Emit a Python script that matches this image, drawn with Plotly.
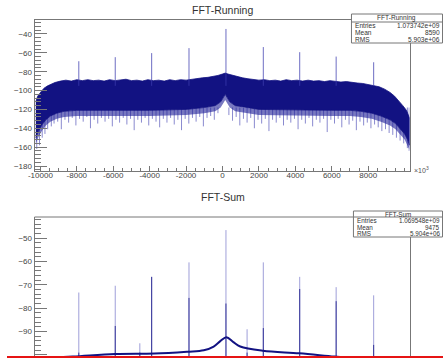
import plotly.graph_objects as go

W, H = 443, 358

# ---------------- data ----------------
# FFT-Running : upper edge of the dense noise band
run_up_x = [-10250, -10150, -9950, -9800, -9600, -9450, -9200, -8900, -8600, -8300, -8000, -7700,
            -7400, -7100, -6800, -6500, -6200, -5900, -5600, -5300, -5000, -4700, -4400, -4100,
            -3800, -3500, -3200, -2900, -2600, -2300, -2000, -1700, -1400, -1100, -800, -500,
            -250, 0, 150, 300, 550, 800, 1100, 1400, 1700, 2000, 2300, 2600, 2900, 3200, 3500,
            3800, 4100, 4400, 4700, 5000, 5300, 5600, 5900, 6200, 6500, 6800, 7100, 7400, 7700,
            8000, 8300, 8600, 8900, 9200, 9450, 9700, 9900, 10100, 10270]
run_up_y = [-112, -106, -101, -97.5, -95, -93.5, -91.5, -90, -89, -90, -88.5, -89.5,
            -88.5, -89.5, -89, -90, -88.5, -89.5, -89, -88, -89.5, -89, -90, -88.5,
            -89.5, -89, -90, -88.5, -89.5, -88.5, -89, -88, -87.5, -86.5, -86, -85,
            -84, -82.5, -81.5, -82.5, -84, -85.5, -86.5, -87.5, -88, -89, -88.5, -89.5, -89, -90, -88.5,
            -89.5, -89, -90, -89, -90, -89.5, -90.5, -89.5, -90, -91, -90.5, -91.5, -92, -92.5,
            -93.5, -94.5, -96, -98.5, -102, -106, -111, -116, -121, -129]
# lower edge of the solid (dark) part of the band
run_lo_x = [-10250, -10100, -9900, -9700, -9450, -9100, -8700, -8000, -4000, -2000, -1000, -400,
            -100, 150, 400, 700, 1200, 2000, 6000, 7000, 7600, 8200, 8700, 9200, 9500, 9780,
            10000, 10160, 10270]
run_lo_y = [-150, -143, -136, -131, -127, -124, -122, -121, -121, -120, -118, -116,
            -112, -104, -112, -116, -118, -120, -121, -121, -122, -124, -127, -131, -135, -141,
            -146, -152, -158]
# lower edge of the half-dense fringe under the solid part
run_fr_y = [-156, -149, -142, -137, -133, -130, -128, -127, -127, -126, -124, -122,
            -118, -110, -118, -122, -124, -126, -127, -127, -128, -130, -133, -137, -141, -147,
            -152, -158, -163]
# ragged strokes below the band
run_rag_x = [-10200, -10050, -9900, -9750, -9600, -9400, -9250, -9050, -8850, -8650, -8450, -8250,
             -8050, -7850, -7650, -7450, -7250, -7050, -6850, -6650, -6450, -6250, -6050, -5850,
             -5650, -5450, -5250, -5050, -4850, -4650, -4450, -4250, -4050, -3850, -3650, -3450,
             -3250, -3050, -2850, -2650, -2450, -2250, -2050, -1850, -1650, -1450, -1250, -1050,
             -850, -650, -450, -250, 350, 550, 750, 950, 1150, 1350, 1550, 1750, 1950, 2150,
             2350, 2550, 2750, 2950, 3150, 3350, 3550, 3750, 3950, 4150, 4350, 4550, 4750, 4950,
             5150, 5350, 5550, 5750, 5950, 6150, 6350, 6550, 6750, 6950, 7150, 7350, 7550, 7750,
             7950, 8150, 8350, 8550, 8750, 8950, 9150, 9350, 9550, 9750, 9950, 10150, 10250]
run_rag_y = [-162, -158, -150, -146, -141, -138, -135, -133, -141, -131, -134, -129,
             -137, -130, -133, -128, -140, -131, -135, -129, -133, -130, -138, -131,
             -134, -129, -136, -130, -142, -131, -134, -129, -137, -130, -133, -139,
             -130, -134, -129, -136, -131, -142, -130, -135, -129, -133, -128, -138,
             -129, -127, -131, -124, -126, -132, -128, -137, -130, -134, -129, -140, -131, -135,
             -130, -143, -131, -134, -129, -137, -131, -134, -130, -141, -131, -135, -129, -138,
             -131, -134, -130, -144, -131, -135, -130, -139, -131, -136, -132, -142, -133, -137,
             -134, -140, -136, -139, -143, -141, -145, -147, -150, -153, -156, -161, -164]
run_tone_x = [-7890, -5890, -3890, -1840, 190, 2240, 4240, 6240, 8300]
run_tone_peak = [-68.9, -64.6, -60.3, -55.0, -34.7, -53.9, -59.3, -64.0, -70.0]

# FFT-Sum : smooth floor and tones
sum_base_x = [-10320, -8216, -5892, -3730, -1946, -1027, -486, -108, 216, 595, 973,
              2216, 4216, 6162, 8162, 10320]
sum_base_y = [-101.5, -100.7, -99.6, -99.4, -98.6, -98.0, -96.4, -94.0, -92.4, -94.5, -96.4,
              -98.2, -99.3, -100.7, -102.0, -103.0]
sum_tone_x = [-7890, -5890, -4540, -3890, -1840, 190, 1350, 2240, 4240, 6240, 8300]
sum_tone_peak = [-73.3, -70.4, -95.0, -66.6, -60.4, -46.6, -89.0, -60.4, -66.6, -71.0, -74.5]
sum_tone_dark = [-99.0, -87.6, -99.0, -66.6, -75.6, -78.0, -99.0, -88.5, -71.8, -77.0, -95.7]

x_ticks = [-10000, -8000, -6000, -4000, -2000, 0, 2000, 4000, 6000, 8000]
run_yticks = [-40, -60, -80, -100, -120, -140, -160, -180]
sum_yticks = [-50, -60, -70, -80, -90, -100]

NAVY = "rgb(18,18,130)"
FONT = "Liberation Sans, Arial, sans-serif"
AX = "#777"


def px(xpix):
    return xpix / W


def py(ypix):
    return 1 - ypix / H


def segs(xs, y0s, y1s):
    X, Y = [], []
    for x, a, b in zip(xs, y0s, y1s):
        X += [x, x, None]
        Y += [a, b, None]
    return X, Y


fig = go.Figure()

# ---- top panel ----
rx, ry = segs(run_rag_x, [-118] * len(run_rag_x), run_rag_y)
fig.add_trace(go.Scatter(x=rx, y=ry, mode="lines", line=dict(color="rgba(60,60,175,0.6)", width=1),
                         xaxis="x", yaxis="y", hoverinfo="skip"))
fig.add_trace(go.Scatter(x=run_lo_x + run_lo_x[::-1], y=run_lo_y + run_fr_y[::-1],
                         mode="lines", fill="toself", fillcolor="rgba(30,30,150,0.6)",
                         line=dict(width=0), xaxis="x", yaxis="y", hoverinfo="skip"))
fig.add_trace(go.Scatter(x=run_up_x + run_lo_x[::-1], y=run_up_y + run_lo_y[::-1],
                         mode="lines", fill="toself", fillcolor=NAVY,
                         line=dict(width=0.8, color=NAVY), xaxis="x", yaxis="y", hoverinfo="skip"))
tx, ty = segs(run_tone_x, [-95] * len(run_tone_x), run_tone_peak)
fig.add_trace(go.Scatter(x=tx, y=ty, mode="lines", line=dict(color="rgba(60,60,175,0.75)", width=1),
                         xaxis="x", yaxis="y", hoverinfo="skip"))

# ---- bottom panel ----
sx, sy = segs(sum_tone_x, [-101] * len(sum_tone_x), sum_tone_peak)
fig.add_trace(go.Scatter(x=sx, y=sy, mode="lines", line=dict(color="rgba(80,80,185,0.55)", width=1),
                         xaxis="x2", yaxis="y2", hoverinfo="skip"))
sx2, sy2 = segs(sum_tone_x, [-101] * len(sum_tone_x), sum_tone_dark)
fig.add_trace(go.Scatter(x=sx2, y=sy2, mode="lines", line=dict(color="rgba(30,30,140,0.85)", width=1),
                         xaxis="x2", yaxis="y2", hoverinfo="skip"))
fig.add_trace(go.Scatter(x=sum_base_x, y=sum_base_y, mode="lines",
                         line=dict(color=NAVY, width=2, shape="spline"),
                         xaxis="x2", yaxis="y2", hoverinfo="skip"))

axis_common = dict(showgrid=False, zeroline=False, showline=True, linecolor=AX, linewidth=1,
                   ticks="inside", tickcolor=AX, tickfont=dict(family=FONT, size=8, color="#444"))

fig.update_layout(
    width=W, height=H, margin=dict(l=0, r=0, t=0, b=0),
    paper_bgcolor="white", plot_bgcolor="white", showlegend=False,
    xaxis=dict(domain=[px(28), px(409)], range=[-10320, 10270], anchor="y", mirror=True,
               tickvals=x_ticks, ticktext=[str(v) for v in x_ticks], ticklen=5, ticklabelstandoff=-4,
               minor=dict(dtick=500, ticklen=3, ticks="inside", tickcolor=AX), **axis_common),
    yaxis=dict(domain=[py(171), py(20)], range=[-185.3, -25.2], anchor="x", mirror=True,
               tickvals=run_yticks, ticklen=12,
               minor=dict(dtick=4, ticklen=6, ticks="inside", tickcolor=AX), **axis_common),
    xaxis2=dict(domain=[px(28), px(409)], range=[-10320, 10270], anchor="y2",
                showgrid=False, zeroline=False, showline=False, showticklabels=False, ticks=""),
    yaxis2=dict(domain=[0, py(217)], range=[-101.3, -41.0], anchor="x2", mirror=True,
                tickvals=sum_yticks, ticklen=12,
                minor=dict(dtick=2, ticklen=6, ticks="inside", tickcolor=AX), **axis_common),
)

shapes = []
annos = []
# top border of bottom frame
shapes.append(dict(type="line", xref="paper", yref="paper", x0=px(28), x1=px(409), y0=py(217), y1=py(217),
                   line=dict(color=AX, width=1)))


def stats_box(x0, x1, y0, ysep, y1, title, rows, fs):
    shapes.append(dict(type="rect", xref="paper", yref="paper", x0=px(x0), x1=px(x1), y0=py(y1), y1=py(y0),
                       line=dict(color=AX, width=1), fillcolor="white", layer="above"))
    shapes.append(dict(type="line", xref="paper", yref="paper", x0=px(x0), x1=px(x1), y0=py(ysep), y1=py(ysep),
                       line=dict(color=AX, width=1), layer="above"))
    common = dict(xref="paper", yref="paper", showarrow=False, yanchor="middle", borderpad=0,
                  font=dict(family=FONT, size=fs, color="#333"))
    annos.append(dict(text=title, x=px((x0 + x1) / 2), y=py((y0 + ysep) / 2), xanchor="center", **common))
    step = (y1 - ysep) / len(rows)
    for i, (k, v) in enumerate(rows):
        yc = ysep + step * (i + 0.5)
        annos.append(dict(text=k, x=px(x0 + 3), y=py(yc), xanchor="left", **common))
        annos.append(dict(text=v, x=px(x1 - 1.5), y=py(yc), xanchor="right", **common))


stats_box(350, 442.5, 14, 22, 43, "FFT-Running",
          [("Entries", "1.073742e+09"), ("Mean", "8590"), ("RMS", "5.903e+06")], 6.6)
stats_box(352, 442.5, 211, 217, 237, "FFT-Sum",
          [("Entries", "1.069548e+09"), ("Mean", "9475"), ("RMS", "5.904e+06")], 6.3)

annos.append(dict(text="FFT-Running", x=px(219), y=py(10), xref="paper", yref="paper", showarrow=False,
                  xanchor="center", yanchor="middle", font=dict(family=FONT, size=10.5, color="#333")))
annos.append(dict(text="FFT-Sum", x=px(219), y=py(197), xref="paper", yref="paper", showarrow=False,
                  xanchor="center", yanchor="middle", font=dict(family=FONT, size=10.5, color="#333")))
annos.append(dict(text="×10<sup>3</sup>", x=px(411), y=py(170), xref="paper", yref="paper", showarrow=False,
                  xanchor="left", yanchor="middle", font=dict(family=FONT, size=7, color="#555")))

# red strip along the bottom edge
shapes.append(dict(type="line", xref="paper", yref="paper", x0=0, x1=1, y0=py(357), y1=py(357),
                   line=dict(color="rgb(230,20,20)", width=2), layer="above"))

fig.update_layout(shapes=shapes, annotations=annos)
fig.write_html("out.html")
